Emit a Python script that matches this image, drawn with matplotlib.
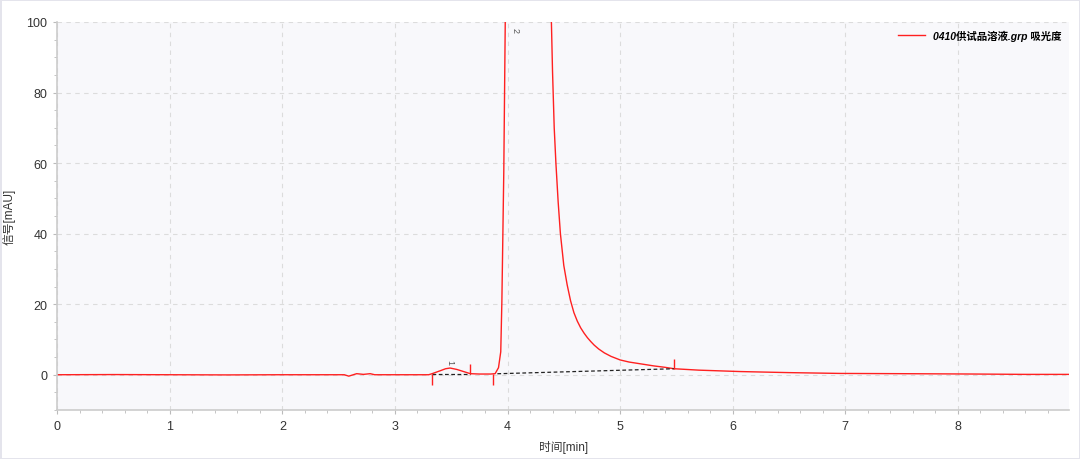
import matplotlib
matplotlib.use("Agg")
import matplotlib.pyplot as plt
from matplotlib.ticker import MultipleLocator

plt.rcParams['font.family'] = ['Liberation Sans', 'Noto Sans CJK SC', 'DejaVu Sans']

# chromatogram trace (time in min, signal in mAU)
t = [0.0, 0.5, 1.0, 1.5, 2.0, 2.4, 2.55, 2.59, 2.63, 2.66, 2.72, 2.78, 2.82, 2.9,
     3.1, 3.3, 3.33, 3.4, 3.45, 3.49, 3.55, 3.62, 3.67, 3.75, 3.85, 3.89,
     3.92, 3.94, 3.95, 3.967, 3.98, 4.05, 4.18, 4.32, 4.39, 4.40, 4.415,
     4.43, 4.45, 4.47, 4.50, 4.53, 4.56, 4.59, 4.62, 4.65, 4.68, 4.71,
     4.74, 4.77, 4.81, 4.86, 4.92, 5.0, 5.08, 5.18, 5.3, 5.4,
     5.48, 5.7, 6.07, 6.5, 6.96, 7.5, 8.14, 8.6, 9.0]
sig = [0.0, 0.05, 0.0, -0.05, 0.0, 0.0, 0.0, -0.4, 0.0, 0.3, 0.1, 0.3, 0.0, 0.0,
       0.0, 0.0, 0.3, 1.1, 1.7, 1.9, 1.5, 0.8, 0.3, 0.2, 0.2, 0.3,
       2.0, 6.5, 20.7, 57.5, 100.0, 250.0, 400.0, 250.0, 100.0, 86.0, 70.0,
       60.0, 49.0, 40.0, 31.0, 25.5, 21.0, 17.6, 15.2, 13.3, 11.8, 10.5,
       9.4, 8.4, 7.3, 6.2, 5.2, 4.2, 3.6, 3.1, 2.5, 2.1,
       1.7, 1.3, 0.9, 0.6, 0.37, 0.3, 0.2, 0.1, 0.1]

# integration baselines
base1_t = [3.33, 3.67]
base1_y = [0.3, 0.3]
base2_t = [3.91, 5.48]
base2_y = [0.28, 1.7]

# peak start/end markers
mark_t = [3.33, 3.67, 3.87, 5.48]
mark_lo = [-2.8, 0.3, -2.8, 1.7]
mark_hi = [0.3, 3.1, 0.3, 4.5]

peak_names = ["1", "2"]
peak_t = [3.49, 4.07]
peak_y = [3.7, 98.0]

fig = plt.figure(figsize=(10.8, 4.6), dpi=100)
fig.patch.set_edgecolor('#e4e4ec')
fig.patch.set_linewidth(2)
ax = fig.add_axes([0.053, 0.1065, 0.937, 0.8435])
ax.set_facecolor('#f8f8fb')

ax.plot(t, sig, color='#ff2020', linewidth=1.0, label='0410供试品溶液.grp 吸光度')
ax.plot(base1_t, base1_y, color='#222222', linestyle=(0, (3, 2)), linewidth=0.9)
ax.plot(base2_t, base2_y, color='#222222', linestyle=(0, (3, 2)), linewidth=0.9)
ax.vlines(mark_t, mark_lo, mark_hi, color='#ff2020', linewidth=1.0)
for name, px, py in zip(peak_names, peak_t, peak_y):
    ax.text(px, py, name, rotation=-90, fontsize=6.5, color='#555555',
            ha='center', va='center')

ax.set_xlim(0, 8.99)
ax.set_ylim(-10, 100)
ax.xaxis.set_major_locator(MultipleLocator(1))
ax.xaxis.set_minor_locator(MultipleLocator(0.2))
ax.yaxis.set_major_locator(MultipleLocator(20))
ax.yaxis.set_minor_locator(MultipleLocator(5))
ax.tick_params(which='major', length=3, color='#bbbbbb', labelsize=9,
               labelcolor='#333333', pad=4)
ax.tick_params(which='minor', length=2, color='#bbbbbb')

for s in ['top', 'right']:
    ax.spines[s].set_visible(False)
for s in ['left', 'bottom']:
    ax.spines[s].set_color('#cccccc')
    ax.spines[s].set_linewidth(1.2)

ax.grid(True, which='major', linestyle=(0, (4, 4)), color='#dcdcdc', linewidth=0.8)

ax.set_xlabel('时间[min]', fontsize=8.5, color='#333333', labelpad=6)
ax.set_ylabel('信号[mAU]', fontsize=8.5, color='#333333', labelpad=8)

ax.legend(loc='upper right', frameon=False,
          prop={'style': 'italic', 'weight': 'bold', 'size': 7.5},
          handlelength=2.6, borderaxespad=0.3)

fig.savefig('out.png', dpi=100, facecolor='white', edgecolor=fig.patch.get_edgecolor())
